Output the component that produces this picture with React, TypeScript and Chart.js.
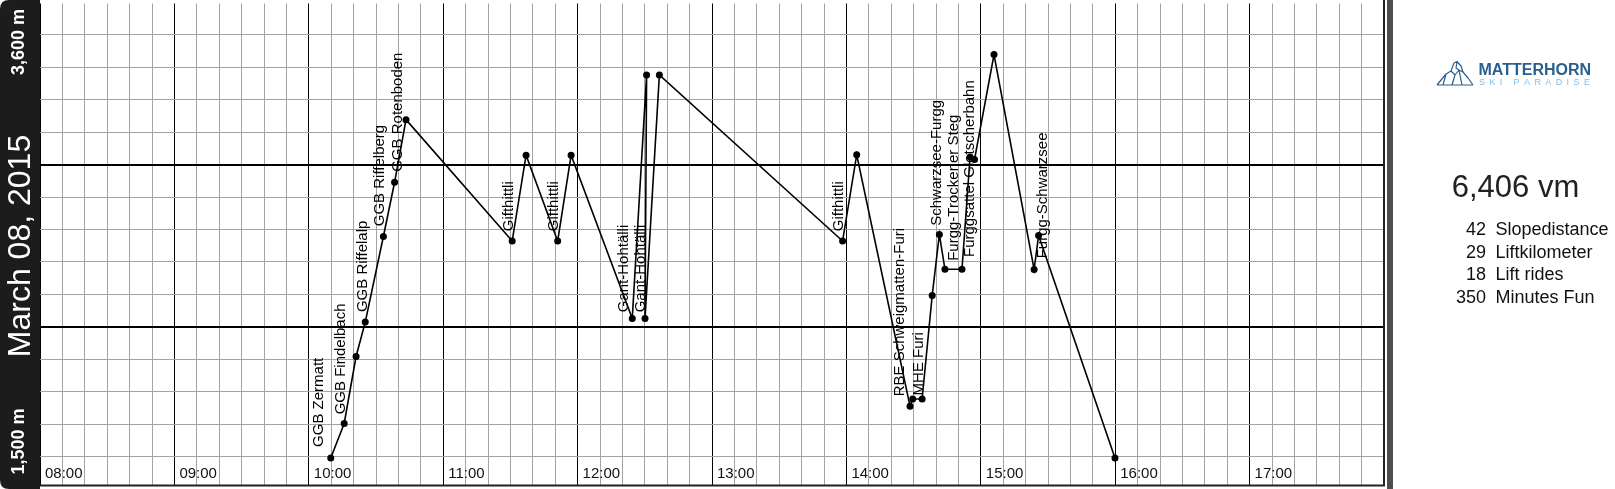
import { useEffect, useRef } from 'react';
import { Chart, registerables } from 'chart.js';

Chart.register(...registerables);

// ---- data (minutes since midnight, metres) ----
const TIMES = [
  609.8, 615.8, 621.1, 625.2, 633.3, 638.3, 643.4,
  690.8, 697.0, 711.1, 717.1,
  744.4, 750.8, 750.1, 756.5,
  838.3, 844.6,
  868.4, 869.6, 873.8, 878.3, 881.5, 884.0, 891.6, 895.2, 897.2, 905.9,
  923.8, 925.8, 959.9,
];
const ELEVATIONS = [
  1604, 1756, 2050, 2201, 2577, 2815, 3090,
  2557, 2934, 2557, 2934,
  2217, 3286, 2217, 3286,
  2557, 2936,
  1832, 1863, 1863, 2318, 2586, 2433, 2433, 2926, 2915, 3376,
  2432, 2581, 1604,
];

const LIFT_NAMES = [
  'GGB Zermatt', 'GGB Findelbach', 'GGB Riffelalp', 'GGB Riffelberg', 'GGB Rotenboden',
  'Gifthittli', 'Gifthittli', 'Gant-Hohtälli', 'Gant-Hohtälli', 'Gifthittli',
  'RBE Schweigmatten-Furi', 'MHE Furi', 'Schwarzsee-Furgg', 'Furgg-Trockener Steg',
  'Furggsattel Gletscherbahn', 'Furgg-Schwarzsee',
];
const LIFT_TIMES = [
  606.3, 616.2, 625.8, 633.6, 641.5,
  691.2, 711.3, 742.5, 750.3, 838.7,
  865.7, 874.0, 882.2, 889.8, 897.0, 929.6,
];
const LIFT_ELEVATIONS = [
  1653, 1796, 2245, 2622, 2861,
  2600, 2600, 2244, 2244, 2600,
  1875, 1879, 2624, 2470, 2487, 2481,
];

const HOUR_LABELS = ['08:00', '09:00', '10:00', '11:00', '12:00', '13:00', '14:00', '15:00', '16:00', '17:00'];
const HOUR_VALUES = [480, 540, 600, 660, 720, 780, 840, 900, 960, 1020];

const DATE_TEXT = 'March 08, 2015';
const ELEV_TOP_LABEL = '3,600 m';
const ELEV_BOTTOM_LABEL = '1,500 m';
const TOTAL_TEXT = '6,406 vm';
const STAT_VALUES = ['42', '29', '18', '350'];
const STAT_NAMES = ['Slopedistance', 'Liftkilometer', 'Lift rides', 'Minutes Fun'];

// ---- scale setup ----
const X_MIN = 480;
const X_MAX = 1080;
const X_STEP = 10;
const Y_MIN = 1483.5;
const Y_MAX = 3600;
const Y_GRID_TOP = 3604.6;
const Y_GRID_STEP = 142.4;

const FONT = '"Liberation Sans", Arial, sans-serif';

const overlay = {
  id: 'overlay',
  beforeDraw(chart: any) {
    const ctx = chart.ctx;
    ctx.save();
    ctx.fillStyle = '#ffffff';
    ctx.fillRect(0, 0, chart.width, chart.height);
    ctx.restore();
  },
  beforeDatasetsDraw(chart: any) {
    const ctx = chart.ctx;
    const xs = chart.scales.x;
    const area = chart.chartArea;
    ctx.save();
    ctx.font = `15px ${FONT}`;
    ctx.fillStyle = '#111';
    ctx.textAlign = 'left';
    ctx.textBaseline = 'alphabetic';
    HOUR_LABELS.forEach((lbl, i) => {
      const px = xs.getPixelForValue(HOUR_VALUES[i]);
      ctx.fillText(lbl, px + 5, area.bottom - 8);
    });
    ctx.restore();
  },
  afterDatasetsDraw(chart: any) {
    const ctx = chart.ctx;
    const xs = chart.scales.x;
    const ys = chart.scales.y;
    const area = chart.chartArea;
    ctx.save();
    ctx.font = `15px ${FONT}`;
    ctx.fillStyle = '#000';
    ctx.textAlign = 'left';
    ctx.textBaseline = 'alphabetic';
    LIFT_NAMES.forEach((name, i) => {
      const px = xs.getPixelForValue(LIFT_TIMES[i]);
      const py = ys.getPixelForValue(LIFT_ELEVATIONS[i]);
      ctx.save();
      ctx.translate(px, py);
      ctx.rotate(-Math.PI / 2);
      ctx.fillText(name, 0, 0);
      ctx.restore();
    });

    // plot borders
    ctx.strokeStyle = '#222';
    ctx.lineWidth = 2;
    ctx.beginPath();
    ctx.moveTo(area.right, 0);
    ctx.lineTo(area.right, area.bottom + 1);
    ctx.moveTo(area.left, area.bottom);
    ctx.lineTo(area.right + 1, area.bottom);
    ctx.stroke();

    // separator bar
    ctx.fillStyle = '#4d4d4d';
    ctx.fillRect(area.right + 3, 0, 6, chart.height);

    // left band
    const bw = area.left;
    const h = chart.height;
    const r = 9;
    ctx.fillStyle = '#1c1c1c';
    ctx.beginPath();
    ctx.moveTo(r, 0);
    ctx.lineTo(bw, 0);
    ctx.lineTo(bw, h);
    ctx.lineTo(r, h);
    ctx.quadraticCurveTo(0, h, 0, h - r);
    ctx.lineTo(0, r);
    ctx.quadraticCurveTo(0, 0, r, 0);
    ctx.closePath();
    ctx.fill();

    ctx.fillStyle = '#ffffff';
    ctx.textAlign = 'center';
    ctx.font = `32px ${FONT}`;
    ctx.save();
    ctx.translate(30, 246);
    ctx.rotate(-Math.PI / 2);
    ctx.fillText(DATE_TEXT, 0, 0);
    ctx.restore();

    ctx.font = `bold 18px ${FONT}`;
    ctx.save();
    ctx.translate(23.5, 42);
    ctx.rotate(-Math.PI / 2);
    ctx.fillText(ELEV_TOP_LABEL, 0, 0);
    ctx.restore();
    ctx.save();
    ctx.translate(23.5, 441.5);
    ctx.rotate(-Math.PI / 2);
    ctx.fillText(ELEV_BOTTOM_LABEL, 0, 0);
    ctx.restore();

    // logo
    const blue = '#2b5f8e';
    ctx.strokeStyle = blue;
    ctx.lineWidth = 1.2;
    ctx.lineJoin = 'round';
    ctx.beginPath();
    ctx.moveTo(1437, 85);
    ctx.lineTo(1473, 85);
    ctx.moveTo(1437, 85);
    ctx.lineTo(1446, 74);
    ctx.lineTo(1451, 71);
    ctx.lineTo(1454, 63);
    ctx.lineTo(1457, 61.5);
    ctx.lineTo(1461, 66);
    ctx.lineTo(1463, 72);
    ctx.lineTo(1468, 78);
    ctx.lineTo(1473, 85);
    ctx.moveTo(1451, 71);
    ctx.lineTo(1455, 75);
    ctx.lineTo(1452, 85);
    ctx.moveTo(1455, 75);
    ctx.lineTo(1459, 70);
    ctx.lineTo(1463, 72);
    ctx.moveTo(1446, 74);
    ctx.lineTo(1443, 85);
    ctx.moveTo(1459, 70);
    ctx.lineTo(1462, 85);
    ctx.moveTo(1457, 61.5);
    ctx.lineTo(1456, 68);
    ctx.lineTo(1459, 70);
    ctx.stroke();

    ctx.fillStyle = blue;
    ctx.textAlign = 'left';
    ctx.font = `bold 16px ${FONT}`;
    ctx.fillText('MATTERHORN', 1478.5, 75);

    ctx.fillStyle = '#7cc0e8';
    ctx.font = `9px ${FONT}`;
    const sub = 'SKI PARADISE';
    let sx = 1479;
    for (const ch of sub) {
      ctx.fillText(ch, sx, 84.5);
      sx += ctx.measureText(ch).width + 4.4;
    }

    // totals
    ctx.fillStyle = '#222';
    ctx.textAlign = 'center';
    ctx.font = `31px ${FONT}`;
    ctx.fillText(TOTAL_TEXT, 1515.5, 196.5);

    ctx.font = `18px ${FONT}`;
    ctx.fillStyle = '#111';
    const baselines = [235, 257.5, 280, 302.5];
    STAT_VALUES.forEach((v, i) => {
      ctx.textAlign = 'right';
      ctx.fillText(v, 1486, baselines[i]);
      ctx.textAlign = 'left';
      ctx.fillText(STAT_NAMES[i], 1495.5, baselines[i]);
    });
    ctx.restore();
  },
};

export default function App() {
  const ref = useRef<HTMLCanvasElement>(null);

  useEffect(() => {
    const canvas = ref.current;
    if (!canvas) return;
    const xGrid: number[] = [];
    for (let v = X_MIN; v <= X_MAX; v += X_STEP) xGrid.push(v);
    const yGrid: number[] = [];
    for (let k = 0; k <= 15; k++) {
      const v = Y_GRID_TOP - k * Y_GRID_STEP;
      if (v > Y_MIN && v < Y_MAX) yGrid.push(v);
    }

    const chart = new Chart(canvas, {
      type: 'line',
      data: {
        datasets: [
          {
            data: TIMES.map((t, i) => ({ x: t, y: ELEVATIONS[i] })),
            borderColor: '#000',
            borderWidth: 1.6,
            pointRadius: 3.5,
            pointHoverRadius: 3.5,
            pointBackgroundColor: '#000',
            pointBorderWidth: 0,
            tension: 0,
            clip: false as any,
          },
        ],
      },
      options: {
        responsive: false,
        animation: false,
        devicePixelRatio: 1,
        events: [],
        layout: { padding: { left: 40, right: 231, top: 0, bottom: 2 } },
        plugins: { legend: { display: false }, tooltip: { enabled: false } },
        scales: {
          x: {
            type: 'linear',
            min: X_MIN,
            max: X_MAX,
            ticks: { display: false },
            border: { display: false },
            grid: {
              drawTicks: false,
              color: (c: any) => (c.tick && Math.round(c.tick.value) % 60 === 0 ? '#000' : '#a3a3a3'),
              lineWidth: 1,
            },
            afterBuildTicks: (s: any) => {
              s.ticks = xGrid.map((v) => ({ value: v }));
            },
          },
          y: {
            type: 'linear',
            min: Y_MIN,
            max: Y_MAX,
            ticks: { display: false },
            border: { display: false },
            grid: {
              drawTicks: false,
              color: (c: any) => {
                const k = Math.round((Y_GRID_TOP - c.tick.value) / Y_GRID_STEP);
                return k % 5 === 0 ? '#000' : '#a3a3a3';
              },
              lineWidth: (c: any) => {
                const k = Math.round((Y_GRID_TOP - c.tick.value) / Y_GRID_STEP);
                return k % 5 === 0 ? 2 : 1;
              },
            },
            afterBuildTicks: (s: any) => {
              s.ticks = yGrid.map((v) => ({ value: v }));
            },
          },
        },
      },
      plugins: [overlay],
    });
    return () => chart.destroy();
  }, []);

  return (
    <div style={{ position: 'fixed', left: 0, top: 0, width: 1615, height: 489, overflow: 'hidden', background: '#fff' }}>
      <canvas ref={ref} width={1615} height={489} style={{ display: 'block' }} />
    </div>
  );
}
